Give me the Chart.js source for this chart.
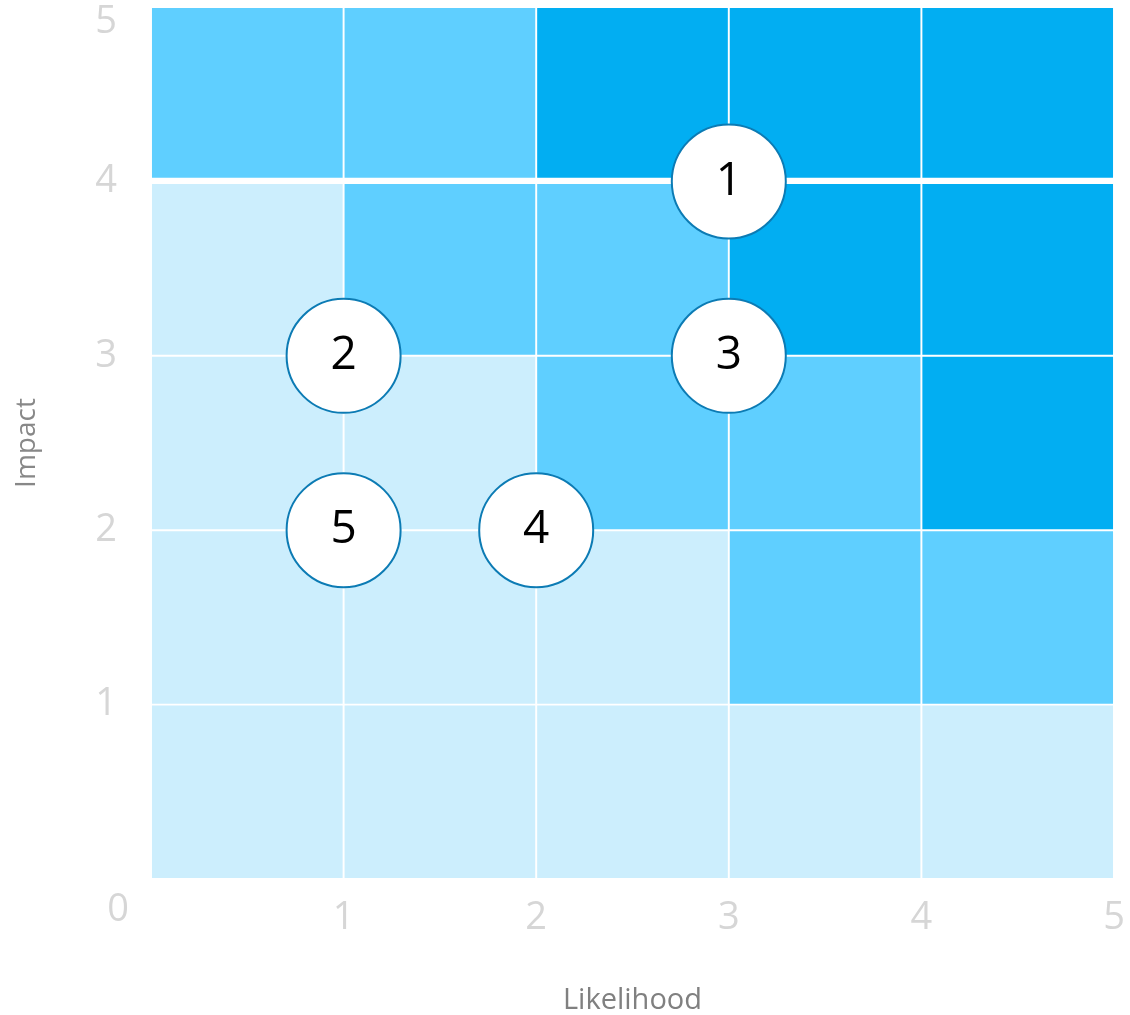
<!DOCTYPE html>
<html>
<head>
<meta charset="utf-8">
<title>Risk matrix</title>
<script src="https://cdn.jsdelivr.net/npm/chart.js@4.4.1/dist/chart.umd.min.js"></script>
<style>
  body { margin: 0; background: #fff; }
  #wrap { width: 1130px; height: 1015px; }
</style>
</head>
<body>
<div id="wrap"><canvas id="riskChart"></canvas></div>
<script>
// grid rows (impact band start) and columns (likelihood band start)
const impactRows = [0, 1, 2, 3, 4];
const likelihoodCols = [0, 1, 2, 3, 4];
// risk level per cell, bottom row first: 0 = low, 1 = medium, 2 = high
const cellLevels = [
    [0, 0, 0, 0, 0],
    [0, 0, 0, 1, 1],
    [0, 0, 1, 1, 2],
    [0, 1, 1, 2, 2],
    [1, 1, 2, 2, 2]
];
const levelColors = ['#CCEEFD', '#5FCFFF', '#02AEF2'];

// the risks placed on the matrix
const riskIds = ['1', '2', '3', '4', '5'];
const riskLikelihood = [3, 1, 3, 2, 1];
const riskImpact = [4, 3, 3, 2, 2];

const FONT = '"Open Sans", "Noto Sans", sans-serif';
const tickColor = '#d6d6d6';
const tickSize = 38;

// build the cells as floating bars
const cells = [];
const cellColors = [];
impactRows.forEach(r => {
    likelihoodCols.forEach(c => {
        cells.push({ x: c + 0.5, y: [r, r + 1] });
        cellColors.push(levelColors[cellLevels[r][c]]);
    });
});

// numbers inside the bubbles
const bubbleLabels = {
    id: 'bubbleLabels',
    afterDatasetsDraw(chart) {
        const meta = chart.getDatasetMeta(1);
        const ctx = chart.ctx;
        ctx.save();
        ctx.font = '46px ' + FONT;
        ctx.fillStyle = '#000';
        ctx.textAlign = 'center';
        ctx.textBaseline = 'middle';
        meta.data.forEach((pt, i) => ctx.fillText(riskIds[i], pt.x, pt.y));
        ctx.restore();
    }
};

// shared "0" in the corner, and the top "5" pulled down inside the canvas
const cornerTicks = {
    id: 'cornerTicks',
    afterDraw(chart) {
        const { ctx, chartArea, scales } = chart;
        ctx.save();
        ctx.font = tickSize + 'px ' + FONT;
        ctx.fillStyle = tickColor;
        ctx.textBaseline = 'middle';
        ctx.textAlign = 'center';
        ctx.fillText('0', chartArea.left - 33, chartArea.bottom + 31);
        ctx.textAlign = 'right';
        ctx.fillText('5', chartArea.left - 34, scales.y.getPixelForValue(5) + 15);
        ctx.restore();
    }
};

new Chart(document.getElementById('riskChart'), {
    type: 'bar',
    data: {
        datasets: [{
            data: cells,
            backgroundColor: cellColors,
            borderColor: '#ffffff',
            borderSkipped: false,
            borderWidth: ctx => {
                const c = cells[ctx.dataIndex];
                if (!c) return 1;
                return {
                    top: c.y[0] === 3 ? 3 : 1.3,
                    bottom: c.y[0] === 4 ? 4 : 1.3,
                    left: 1.3,
                    right: 1.3
                };
            },
            barPercentage: 1,
            categoryPercentage: 1,
            order: 1
        }, {
            type: 'bubble',
            data: riskIds.map((id, i) => ({ x: riskLikelihood[i], y: riskImpact[i] })),
            radius: 57,
            backgroundColor: '#ffffff',
            borderColor: '#0C7BB4',
            borderWidth: 2,
            order: 0
        }]
    },
    options: {
        responsive: true,
        maintainAspectRatio: false,
        animation: false,
        events: [],
        layout: { autoPadding: false, padding: { top: 7, right: 16, left: 0, bottom: 0 } },
        plugins: {
            legend: { display: false },
            tooltip: { enabled: false }
        },
        scales: {
            x: {
                type: 'linear',
                min: 0,
                max: 5,
                offset: false,
                grid: { display: false, drawTicks: false, offset: false },
                border: { display: false },
                ticks: {
                    stepSize: 1,
                    padding: 16,
                    color: tickColor,
                    font: { family: FONT, size: tickSize },
                    callback: v => v === 0 ? '' : v
                },
                title: {
                    display: true,
                    text: 'Likelihood',
                    color: '#808080',
                    font: { family: FONT, size: 29, lineHeight: 1 },
                    padding: { top: 0, bottom: 0 }
                },
                afterFit: s => { s.height = 136; s.paddingLeft = 0; s.paddingRight = 0; }
            },
            y: {
                min: 0,
                max: 5,
                grid: { display: false, drawTicks: false },
                border: { display: false },
                ticks: {
                    stepSize: 1,
                    padding: 34,
                    color: tickColor,
                    font: { family: FONT, size: tickSize },
                    callback: v => (v === 0 || v === 5) ? '' : v
                },
                title: {
                    display: true,
                    text: 'Impact',
                    color: '#888888',
                    font: { family: FONT, size: 28 },
                    padding: { top: 10, bottom: 0 }
                },
                afterFit: s => { s.width = 151; s.paddingTop = 0; s.paddingBottom = 0; }
            }
        }
    },
    plugins: [bubbleLabels, cornerTicks]
});
</script>
</body>
</html>
